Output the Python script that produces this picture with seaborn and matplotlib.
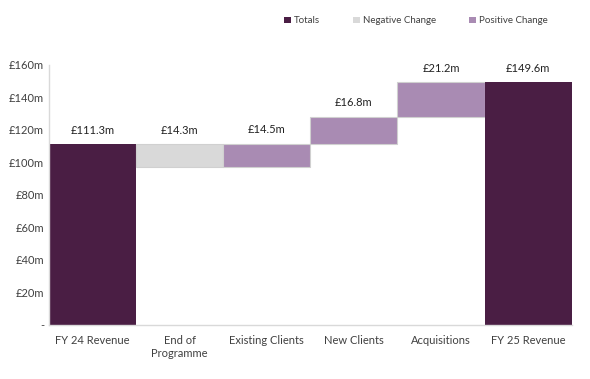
import numpy as np
import pandas as pd
import seaborn as sns
import matplotlib.pyplot as plt
from matplotlib.patches import Patch

categories = ['FY 24 Revenue', 'End of\nProgramme', 'Existing Clients', 'New Clients', 'Acquisitions', 'FY 25 Revenue']
changes = [111.3, -14.3, 14.5, 16.8, 21.2, 149.6]
kinds = ['Totals', 'Negative Change', 'Positive Change', 'Positive Change', 'Positive Change', 'Totals']
labels = ['£111.3m', '£14.3m', '£14.5m', '£16.8m', '£21.2m', '£149.6m']
ticks = [0, 20, 40, 60, 80, 100, 120, 140, 160]
tick_labels = ['-', '£20m', '£40m', '£60m', '£80m', '£100m', '£120m', '£140m', '£160m']

colors = {'Totals': '#4A1E44', 'Negative Change': '#D9D9D9', 'Positive Change': '#A98BB3'}

# running total -> base and height of each bar
bases = []
heights = []
run = 0
for v, k in zip(changes, kinds):
    if k == 'Totals':
        bases.append(0)
        heights.append(v)
        run = v
    elif v < 0:
        bases.append(run + v)
        heights.append(-v)
        run = run + v
    else:
        bases.append(run)
        heights.append(v)
        run = run + v

df = pd.DataFrame({'cat': categories, 'base': bases, 'height': heights, 'kind': kinds, 'label': labels})

sns.set_style('white')
plt.rcParams['font.family'] = ['Lato', 'DejaVu Sans']

fig = plt.figure(figsize=(5.9, 3.79), dpi=100)
ax = fig.add_axes([0.083, 0.1425, 0.886, 0.686])

for i, row in df.iterrows():
    edge = 'none' if row['kind'] == 'Totals' else '#D0D0D0'
    sns.barplot(x=[row['cat']], y=[row['height']], bottom=row['base'], order=categories,
                color=colors[row['kind']], width=1, edgecolor=edge, linewidth=0.8,
                saturation=1, ax=ax)
    ax.annotate(row['label'], (i, row['base'] + row['height']), xytext=(0, 6),
                textcoords='offset points', ha='center', va='bottom', fontsize=8, color='#222222')

ax.set_xlim(-0.5, 5.5)
ax.set_ylim(0, 160)
ax.set_yticks(ticks)
ax.set_yticklabels(tick_labels)
ax.tick_params(axis='both', length=0, labelsize=8, colors='#404040')
ax.tick_params(axis='x', pad=7)
ax.set_xlabel('')
ax.set_ylabel('')
for s in ['top', 'right']:
    ax.spines[s].set_visible(False)
for s in ['left', 'bottom']:
    ax.spines[s].set_color('#D9D9D9')
    ax.spines[s].set_linewidth(1)

handles = [Patch(facecolor=colors[k], edgecolor='none', label=k) for k in colors]
fig.legend(handles=handles, loc='center', bbox_to_anchor=(0.705, 0.945), ncol=3, frameon=False,
           fontsize=7, handlelength=0.7, handleheight=0.7, handletextpad=0.3, columnspacing=3.4,
           labelcolor='#404040')

plt.savefig('out.png', dpi=100)
